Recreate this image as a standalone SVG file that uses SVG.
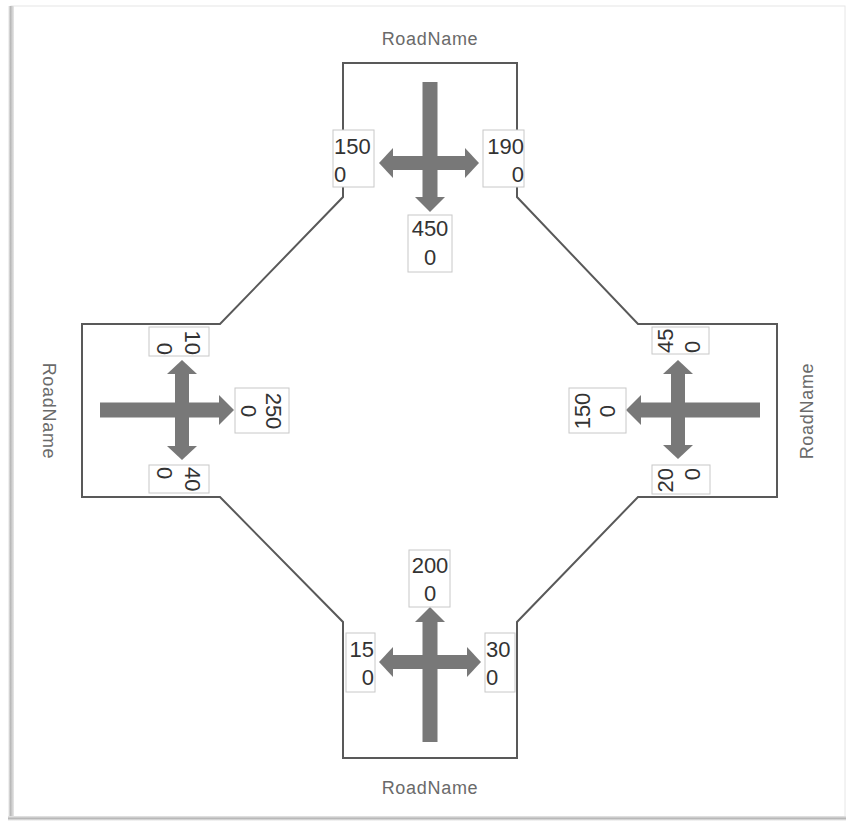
<svg xmlns="http://www.w3.org/2000/svg" width="850" height="821" viewBox="0 0 850 821">
<defs>
<linearGradient id="lsh" x1="0" y1="0" x2="1" y2="0">
<stop offset="0" stop-color="#ffffff"/>
<stop offset="0.4" stop-color="#b8b8b8"/>
<stop offset="1" stop-color="#e8e8e8"/>
</linearGradient>
<linearGradient id="bsh" x1="0" y1="0" x2="0" y2="1">
<stop offset="0" stop-color="#e8e8e8"/>
<stop offset="0.5" stop-color="#b8b8b8"/>
<stop offset="1" stop-color="#ffffff"/>
</linearGradient>
</defs>
<style>
.road{fill:none;stroke:#595959;stroke-width:2;stroke-linejoin:miter}
.arr{fill:#787878;stroke:none}
.box{fill:#ffffff;stroke:#c8c8c8;stroke-width:1}
.num{font-family:"Liberation Sans",Arial,sans-serif;font-size:22px;fill:#333333}
.lbl{font-family:"Liberation Sans",Arial,sans-serif;font-size:18px;fill:#6a6a6a;letter-spacing:0.7px}
</style>
<rect x="0" y="0" width="850" height="821" fill="#ffffff"/>
<g id="frame">
<rect x="11" y="6" width="834" height="811" fill="#ffffff" stroke="#e6e6e6" stroke-width="1"/>
<rect x="8" y="6" width="6" height="814" fill="url(#lsh)"/>
<rect x="8" y="816" width="838" height="5" fill="url(#bsh)"/>
</g>
<g id="connectors">
<polygon id="intersection" class="road" points="343,63 517,63 517,197 638,324 777,324 777,497 638,497 517,622 517,758 343,758 343,622 220,497 82,497 82,324 220,324 343,197"/>
</g>
<g id="road-north">
<text class="lbl" x="430" y="45" text-anchor="middle">RoadName</text>
<rect class="arr" x="422.5" y="82" width="15" height="116"/>
<polygon class="arr" points="415,197 445,197 430,212"/>
<rect class="arr" x="392" y="156" width="74" height="14"/>
<polygon class="arr" points="393,148 393,178 379,163"/>
<polygon class="arr" points="465,148 465,178 479,163"/>
<rect class="box" x="333" y="130" width="41" height="57"/>
<text class="num"><tspan x="334" y="154">150</tspan><tspan x="334" y="182">0</tspan></text>
<rect class="box" x="483" y="130" width="41" height="57"/>
<text class="num" text-anchor="end"><tspan x="524" y="154">190</tspan><tspan x="524" y="182">0</tspan></text>
<rect class="box" x="408" y="215" width="44" height="57"/>
<text class="num" text-anchor="middle"><tspan x="430" y="236">450</tspan><tspan x="430" y="265">0</tspan></text>
</g>
<g id="road-south">
<text class="lbl" x="430" y="794" text-anchor="middle">RoadName</text>
<rect class="arr" x="422.5" y="621" width="15" height="121"/>
<polygon class="arr" points="415,622 445,622 430,607"/>
<rect class="arr" x="392" y="655" width="76" height="14"/>
<polygon class="arr" points="393,647 393,677 379,662"/>
<polygon class="arr" points="467,647 467,677 481,662"/>
<rect class="box" x="409" y="550" width="41" height="57"/>
<text class="num" text-anchor="middle"><tspan x="430" y="573">200</tspan><tspan x="430" y="601">0</tspan></text>
<rect class="box" x="346" y="633" width="29" height="59"/>
<text class="num" text-anchor="end"><tspan x="374" y="657">15</tspan><tspan x="374" y="685">0</tspan></text>
<rect class="box" x="485" y="633" width="30" height="59"/>
<text class="num"><tspan x="486" y="657">30</tspan><tspan x="486" y="685">0</tspan></text>
</g>
<g id="road-west">
<text class="lbl" transform="translate(43,411) rotate(90)" text-anchor="middle">RoadName</text>
<rect class="arr" x="100" y="402.5" width="120" height="15"/>
<polygon class="arr" points="219,395 219,425 234,410"/>
<rect class="arr" x="175" y="373" width="14" height="74"/>
<polygon class="arr" points="167,374 197,374 182,360"/>
<polygon class="arr" points="167,446 197,446 182,460"/>
<rect class="box" x="149" y="327" width="60" height="29"/>
<text class="num" transform="translate(185,355) rotate(90)" text-anchor="end"><tspan x="0" y="0">10</tspan><tspan x="0" y="28">0</tspan></text>
<rect class="box" x="149" y="465" width="60" height="28"/>
<text class="num" transform="translate(185,467) rotate(90)"><tspan x="0" y="0">40</tspan><tspan x="0" y="28">0</tspan></text>
<rect class="box" x="235" y="388" width="54" height="45"/>
<text class="num" transform="translate(266,411) rotate(90)" text-anchor="middle"><tspan x="0" y="0">250</tspan><tspan x="0" y="25">0</tspan></text>
</g>
<g id="road-east">
<text class="lbl" transform="translate(813,411) rotate(-90)" text-anchor="middle">RoadName</text>
<rect class="arr" x="640" y="402.5" width="120" height="15"/>
<polygon class="arr" points="641,395 641,425 626,410"/>
<rect class="arr" x="671" y="373" width="14" height="73"/>
<polygon class="arr" points="663,374 693,374 678,360"/>
<polygon class="arr" points="663,445 693,445 678,459"/>
<rect class="box" x="652" y="327" width="57" height="27"/>
<text class="num" transform="translate(673,353) rotate(-90)"><tspan x="0" y="0">45</tspan><tspan x="0" y="27">0</tspan></text>
<rect class="box" x="652" y="465" width="58" height="29"/>
<text class="num" transform="translate(673,468) rotate(-90)" text-anchor="end"><tspan x="0" y="0">20</tspan><tspan x="0" y="27">0</tspan></text>
<rect class="box" x="569" y="388" width="57" height="45"/>
<text class="num" transform="translate(590,411) rotate(-90)" text-anchor="middle"><tspan x="0" y="0">150</tspan><tspan x="0" y="25">0</tspan></text>
</g>
</svg>
